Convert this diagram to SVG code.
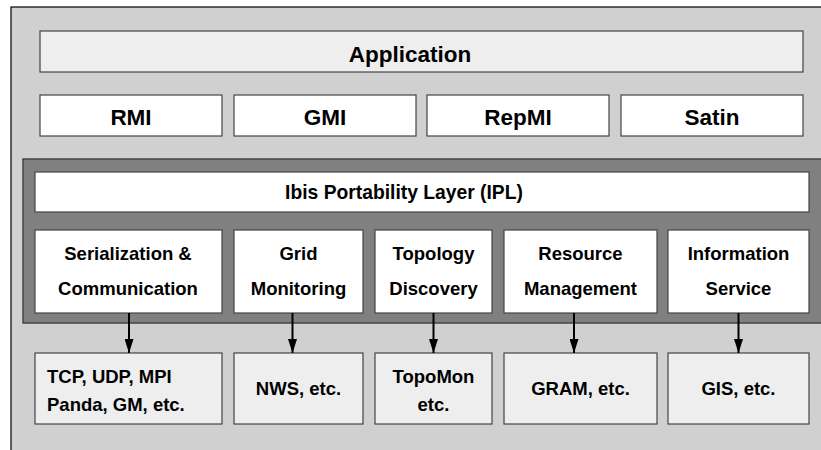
<svg xmlns="http://www.w3.org/2000/svg" width="821" height="450" viewBox="0 0 821 450">
<style>
text{font-family:"Liberation Sans",Arial,Helvetica,sans-serif;font-weight:bold;fill:#000;text-anchor:middle}
.lt{fill:#eeeeee;stroke:#444;stroke-width:1.2}
.wh{fill:#ffffff;stroke:#444;stroke-width:1.2}
.big{font-size:22.5px}
.mid{font-size:18.5px}
.ipl{font-size:19.3px}
.conn line{stroke:#000;stroke-width:2}
</style>
<defs>
<marker id="ah" markerWidth="14" markerHeight="9" refX="14" refY="4.5" orient="auto" markerUnits="userSpaceOnUse" viewBox="0 0 14 9">
<path d="M0,0 L14,4.5 L0,9 Z" fill="#000"/>
</marker>
</defs>
<rect x="0" y="0" width="821" height="450" fill="#ffffff"/>
<rect x="11" y="7" width="815" height="450" fill="#d0d0d0" stroke="#000" stroke-width="1.2"/>
<g id="application"><rect class="lt" x="40" y="31" width="763" height="41"/><text class="big" x="410" y="61.5">Application</text></g>
<g id="rmi"><rect class="wh" x="40" y="95" width="182" height="41"/><text class="big" x="131" y="124.5">RMI</text></g>
<g id="gmi"><rect class="wh" x="234" y="95" width="182" height="41"/><text class="big" x="325" y="124.5">GMI</text></g>
<g id="repmi"><rect class="wh" x="427" y="95" width="182" height="41"/><text class="big" x="518" y="124.5">RepMI</text></g>
<g id="satin"><rect class="wh" x="621" y="95" width="182" height="41"/><text class="big" x="712" y="124.5">Satin</text></g>
<g id="ipl-panel"><rect x="23" y="159" width="800" height="164" fill="#808080" stroke="#444" stroke-width="1.5"/></g>
<g id="ipl"><rect class="wh" x="35" y="172" width="774" height="40"/><text class="ipl" x="404" y="199">Ibis Portability Layer (IPL)</text></g>
<g id="serialization"><rect class="wh" x="35" y="230" width="187" height="83"/><text class="mid" x="128" y="260">Serialization &amp;</text><text class="mid" x="128" y="295">Communication</text></g>
<g id="grid"><rect class="wh" x="234" y="230" width="129" height="83"/><text class="mid" x="298.5" y="260">Grid</text><text class="mid" x="298.5" y="295">Monitoring</text></g>
<g id="topology"><rect class="wh" x="375" y="230" width="117" height="83"/><text class="mid" x="433.5" y="260">Topology</text><text class="mid" x="433.5" y="295">Discovery</text></g>
<g id="resource"><rect class="wh" x="504" y="230" width="153" height="83"/><text class="mid" x="580.5" y="260">Resource</text><text class="mid" x="580.5" y="295">Management</text></g>
<g id="information"><rect class="wh" x="668" y="230" width="141" height="83"/><text class="mid" x="738.5" y="260">Information</text><text class="mid" x="738.5" y="295">Service</text></g>
<g id="tcp"><rect class="lt" x="35" y="353" width="187" height="71"/><text class="mid" x="47" y="383" style="text-anchor:start">TCP, UDP, MPI</text><text class="mid" x="47" y="411" style="text-anchor:start">Panda, GM, etc.</text></g>
<g id="nws"><rect class="lt" x="234" y="353" width="129" height="71"/><text class="mid" x="298.5" y="395">NWS, etc.</text></g>
<g id="topomon"><rect class="lt" x="375" y="353" width="117" height="71"/><text class="mid" x="433.5" y="383">TopoMon</text><text class="mid" x="433.5" y="411">etc.</text></g>
<g id="gram"><rect class="lt" x="504" y="353" width="153" height="71"/><text class="mid" x="580.5" y="395">GRAM, etc.</text></g>
<g id="gis"><rect class="lt" x="668" y="353" width="141" height="71"/><text class="mid" x="738.5" y="395">GIS, etc.</text></g>
<g id="connectors" class="conn">
<line x1="129" y1="313" x2="129" y2="353" marker-end="url(#ah)"/>
<line x1="292.5" y1="313" x2="292.5" y2="353" marker-end="url(#ah)"/>
<line x1="433.5" y1="313" x2="433.5" y2="353" marker-end="url(#ah)"/>
<line x1="574" y1="313" x2="574" y2="353" marker-end="url(#ah)"/>
<line x1="738.5" y1="313" x2="738.5" y2="353" marker-end="url(#ah)"/>
</g>
</svg>
